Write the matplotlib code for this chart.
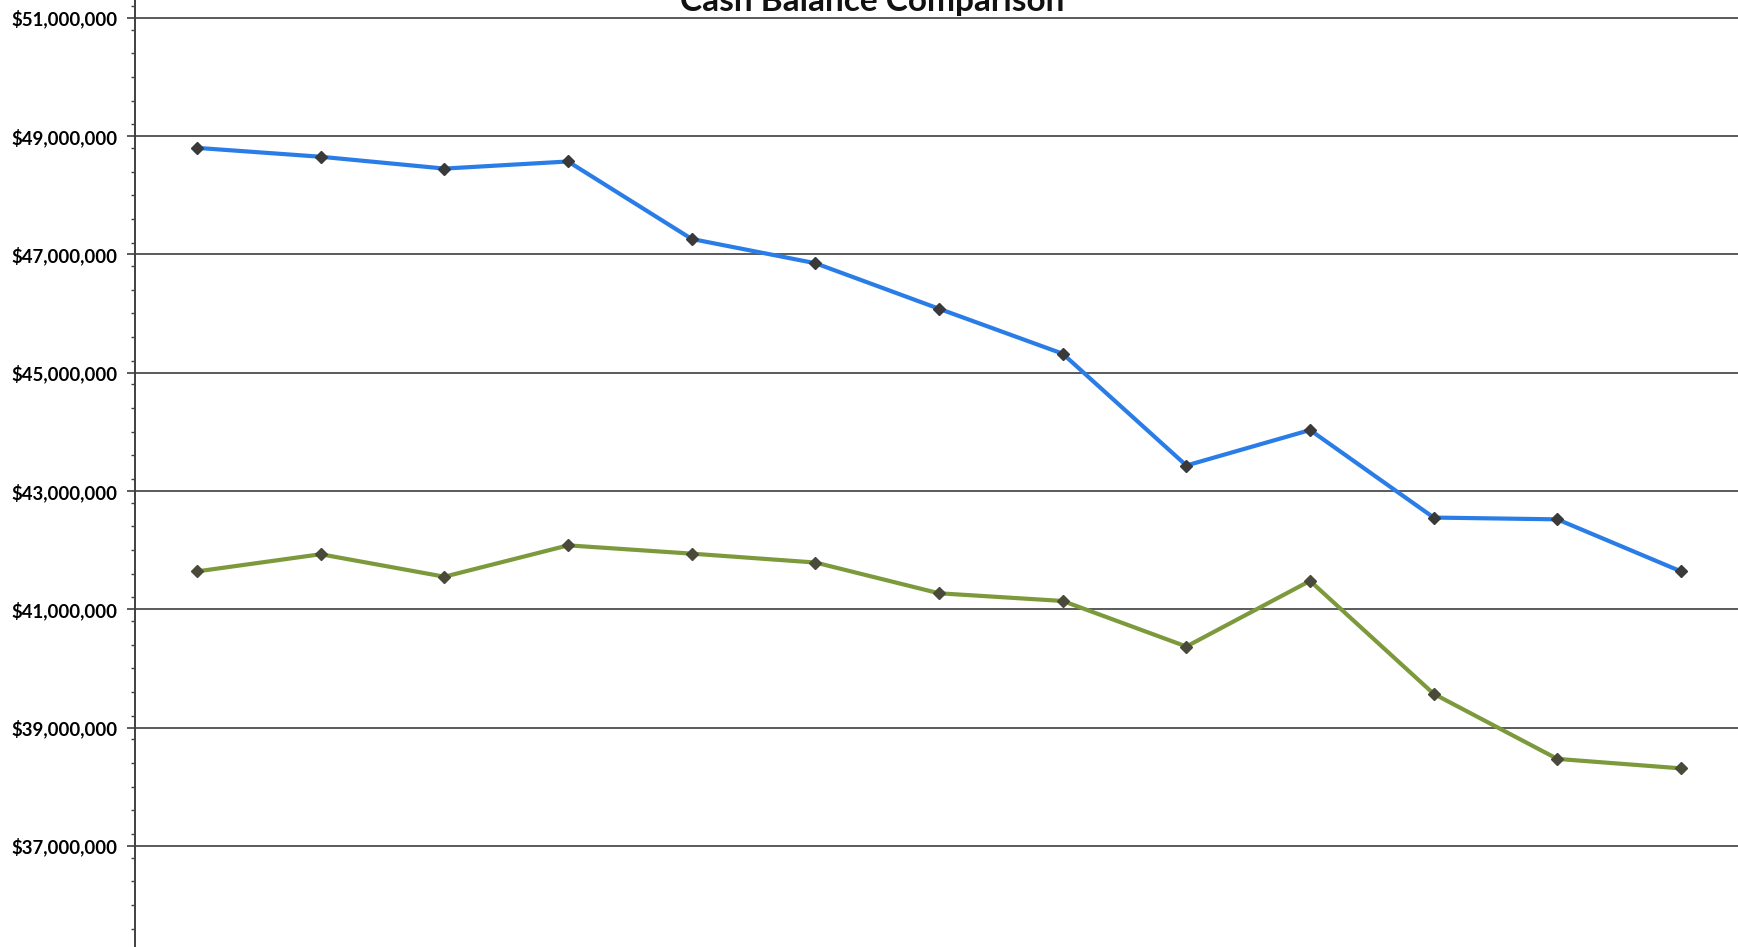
import numpy as np
import matplotlib.pyplot as plt
from matplotlib.ticker import MultipleLocator, FuncFormatter

# cash balances, in $ millions
blue_balance = [48.80, 48.65, 48.45, 48.57, 47.26, 46.85, 46.08, 45.32, 43.43, 44.03, 42.55, 42.52, 41.64]
green_balance = [41.64, 41.93, 41.55, 42.08, 41.94, 41.79, 41.27, 41.14, 40.37, 41.48, 39.57, 38.47, 38.31]
y_ticks = [37, 39, 41, 43, 45, 47, 49, 51]

fig = plt.figure(figsize=(17.38, 9.47), dpi=100)
ax = fig.add_axes([0.0778, 0.0, 0.925, 1.0])

x = np.arange(len(blue_balance))

# gridlines
for v in y_ticks:
    ax.axhline(v, color='#5a5a5a', linewidth=1.4, zorder=1)

ax.plot(x, blue_balance, color='#2a7de6', linewidth=3, zorder=3,
        marker='D', markersize=6, markerfacecolor='#3a3a3a', markeredgecolor='#3a3a3a')
ax.plot(x, green_balance, color='#7c9a3c', linewidth=3, zorder=3,
        marker='D', markersize=6, markerfacecolor='#4a4a3a', markeredgecolor='#4a4a3a')

ax.set_xlim(-0.5, len(x) - 0.5)
ax.set_ylim(35.29, 51.30)
ax.set_yticks(y_ticks)
ax.yaxis.set_minor_locator(MultipleLocator(0.4))
ax.yaxis.set_major_formatter(FuncFormatter(lambda v, p: '${:,.0f}'.format(v * 1e6)))
ax.set_xticks([])

for s in ['top', 'right', 'bottom']:
    ax.spines[s].set_visible(False)
ax.spines['left'].set_color('#404040')
ax.spines['left'].set_linewidth(1.4)
ax.tick_params(axis='y', which='major', length=6, width=1.2, color='#404040', pad=7)
ax.tick_params(axis='y', which='minor', length=3, width=1.0, color='#404040')
for lab in ax.get_yticklabels():
    lab.set_fontfamily('Lato')
    lab.set_fontweight('bold')
    lab.set_fontsize(13.4)

fig.text(0.502, 0.9884, 'Cash Balance Comparison', ha='center', va='baseline',
         fontsize=24, fontweight='bold', family='Lato', color='#111111')

fig.savefig('out.png', dpi=100)
